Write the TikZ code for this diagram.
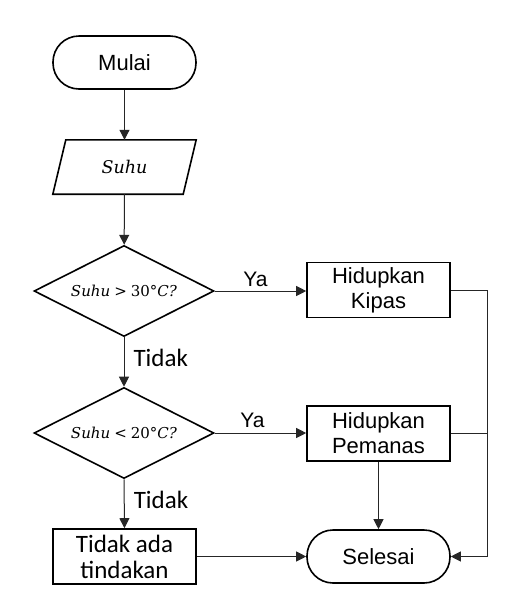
\documentclass[tikz,border=0pt]{standalone}
\usepackage{fontspec}
\newfontfamily\robo{Liberation Sans}
\newfontfamily\cali{Carlito}
\newfontfamily\djs{DejaVu Serif}
\usetikzlibrary{shapes.geometric,arrows.meta}
\begin{document}
\begin{tikzpicture}[x=1pt,y=-1pt,
  box/.style={draw, line width=1.6pt, minimum width=143pt, minimum height=55pt, inner sep=0pt, align=center},
  term/.style={box, rounded corners=26pt, minimum height=53pt},
  dec/.style={draw, diamond, aspect=2, line width=1.6pt, minimum width=180pt, minimum height=91pt, inner sep=1pt},
  arr/.style={line width=1pt, draw=black!85, -{Triangle[length=10pt,width=10pt]}},
  ln/.style={line width=1pt, draw=black!85},
  lab/.style={font=\robo\fontsize{21pt}{25pt}\selectfont, inner sep=0pt},
  tlab/.style={font=\cali\fontsize{25pt}{26pt}\selectfont},
  btxt/.style={font=\robo\fontsize{22pt}{25pt}\selectfont},
  mtxt/.style={font=\djs\fontsize{15pt}{20pt}\selectfont}
]
\fill[white] (0,0) rectangle (516,614);
\node[term, btxt] (mulai) at (124.5,62.5) {Mulai};
\node[minimum width=130pt, minimum height=54pt, inner sep=0pt, font=\djs\fontsize{17.5pt}{22pt}\selectfont] (suhu) at (124.5,167) {\textit{Suhu}};
\draw[line width=1.6pt] ([xshift=6.5pt]suhu.north west) -- ([xshift=6.5pt]suhu.north east) -- ([xshift=-6.5pt]suhu.south east) -- ([xshift=-6.5pt]suhu.south west) -- cycle;
\node[dec, mtxt] (d1) at (124,291) {\textit{Suhu}\hspace{4pt}>\hspace{4pt}30°\textit{C?}};
\node[dec, mtxt] (d2) at (124,433) {\textit{Suhu}\hspace{4pt}<\hspace{4pt}20°\textit{C?}};
\node[box, btxt] (kipas) at (378.5,290) {Hidupkan\\Kipas};
\node[box, btxt] (pemanas) at (378.5,433.5) {Hidupkan\\Pemanas};
\node[box, tlab] (tidak) at (124.5,556.5) {Tidak ada\\tindakan};
\node[term, btxt] (selesai) at (378.5,556.5) {Selesai};
\coordinate (rx) at (487,0);

\draw[arr] (mulai) -- (suhu);
\draw[arr] (suhu) -- (d1);
\draw[arr] (d1.east) -- node[lab, above, yshift=4pt, xshift=-5pt]{Ya} (d1.east -| kipas.west);
\draw[arr] (d1.south) -- node[tlab, right, inner sep=0pt, xshift=9pt, yshift=4pt]{Tidak} (d2.north);
\draw[arr] (d2.east) -- node[lab, above, yshift=5pt, xshift=-8pt]{Ya} (d2.east -| pemanas.west);
\draw[arr] (d2.south) -- node[tlab, right, inner sep=0pt, xshift=9pt, yshift=4pt]{Tidak} (tidak.north);
\draw[arr] (tidak.east) -- (selesai.west);
\draw[arr] (pemanas.south) -- (selesai.north);
\draw[arr] (kipas.east) -- (kipas.east -| rx) |- (selesai.east);
\draw[ln] (pemanas.east) -- (pemanas.east -| rx);
\end{tikzpicture}
\end{document}
